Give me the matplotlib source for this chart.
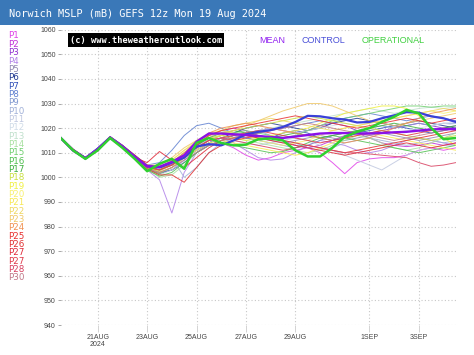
import numpy as np
import matplotlib
matplotlib.use('Agg')
import matplotlib.pyplot as plt
from matplotlib.patches import Rectangle

# forecast hours, 12-hourly from Mon 19 Aug 12z
hours = list(range(0, 385, 12))

member_names = ['P1', 'P2', 'P3', 'P4', 'P5', 'P6', 'P7', 'P8', 'P9', 'P10',
                'P11', 'P12', 'P13', 'P14', 'P15', 'P16', 'P17', 'P18', 'P19', 'P20',
                'P21', 'P22', 'P23', 'P24', 'P25', 'P26', 'P27', 'P27', 'P28', 'P30']
member_colors = ['#e040e8', '#c030d8', '#9030d0', '#b080e8', '#9088b0', '#203890', '#3050b8',
                 '#6080d0', '#8098d0', '#a0b0d8', '#c0c8e0', '#d0dce8', '#c0e0cc', '#a8e0a0',
                 '#70d070', '#50c050', '#40b040', '#c8e040', '#f0f040', '#f8f070', '#f8e850',
                 '#f0d860', '#f0c868', '#f09050', '#e83030', '#e03030', '#e02838', '#e03848',
                 '#d84060', '#c07888']

p1 = [1016, 1011, 1007.5, 1011.5, 1016.5, 1013, 1008.5, 1004.5, 1003, 1005.5, 1009, 1013, 1015, 1014, 1012, 1009, 1007, 1008, 1010, 1011, 1012, 1010, 1006, 1001.5, 1006, 1007.5, 1008, 1008, 1009, 1011, 1012, 1011, 1012]
p2 = [1016, 1011, 1008, 1011.5, 1016, 1012.5, 1008, 1004, 1002, 1004, 1008, 1012, 1016, 1019, 1020, 1019, 1017, 1016, 1015, 1013, 1012, 1013, 1015, 1017, 1018, 1016, 1014, 1013, 1012.5, 1013, 1014, 1013, 1014]
p3 = [1016, 1011.5, 1008, 1011, 1016, 1012, 1008, 1003.5, 1001.5, 1003, 1007, 1011, 1014, 1016, 1017, 1018, 1019, 1020, 1019, 1018, 1019, 1021, 1022, 1021, 1019, 1018, 1019, 1020, 1021, 1022, 1021, 1020, 1021]
p4 = [1016, 1011, 1007.5, 1011, 1016, 1012.5, 1008, 1003, 999, 985.5, 1002, 1010, 1014, 1016, 1014, 1011, 1008, 1007, 1007.5, 1010, 1013, 1015, 1014, 1013, 1011, 1010, 1011, 1013, 1015, 1016, 1015, 1014, 1013]
p5 = [1016, 1010.5, 1007.5, 1011, 1016, 1012.5, 1008.5, 1005, 1004, 1006, 1009, 1013, 1016, 1017, 1018, 1017, 1016, 1015, 1014, 1015, 1016, 1017, 1016, 1015, 1016, 1017, 1018, 1017, 1016, 1015, 1016, 1017, 1018]
p6 = [1016, 1011, 1008, 1012, 1016.5, 1013, 1009, 1005, 1004, 1005, 1008, 1011, 1014, 1016, 1018, 1020, 1021, 1022, 1021, 1020, 1019, 1020, 1022, 1023, 1024, 1023, 1022, 1021, 1022, 1023, 1022, 1021, 1020]
p7 = [1016, 1011, 1008, 1011.5, 1016, 1012.5, 1008, 1004, 1002, 1003, 1006, 1010, 1013, 1015, 1017, 1016, 1015, 1016, 1018, 1019, 1018, 1016, 1015, 1016, 1018, 1019, 1020, 1021, 1020, 1019, 1018, 1019, 1020]
p8 = [1016, 1011, 1007.8, 1011.5, 1016, 1012.5, 1008.5, 1005, 1006, 1011, 1017, 1021, 1022, 1020, 1018, 1017, 1018, 1019, 1020, 1021, 1022, 1023, 1022, 1024, 1025, 1026, 1025, 1024, 1023, 1024, 1025, 1024, 1023]
p9 = [1016, 1011, 1007.5, 1011, 1016, 1012, 1008, 1004, 1003, 1006, 1010, 1014, 1017, 1019, 1018, 1016, 1015, 1014, 1013, 1012, 1013, 1015, 1017, 1018, 1019, 1020, 1021, 1020, 1021, 1022, 1021, 1022, 1022]
p10 = [1016, 1011, 1008, 1011.5, 1016, 1012.5, 1008, 1004.5, 1005, 1008, 1000, 1004, 1010, 1014, 1016, 1018, 1019, 1017, 1015, 1014, 1012, 1011, 1012, 1014, 1015, 1016, 1015, 1014, 1013, 1014, 1015, 1014, 1015]
p11 = [1016, 1011, 1008, 1011.5, 1016.5, 1013, 1008.5, 1005, 1004, 1006, 1009, 1012, 1015, 1016, 1015, 1014, 1013, 1014, 1015, 1016, 1015, 1013, 1011, 1009, 1007, 1005, 1003, 1006, 1009, 1011, 1012, 1013, 1013]
p12 = [1016, 1011, 1007.8, 1011.5, 1016, 1012.5, 1008, 1004, 1003, 1005, 1008, 1012, 1016, 1019, 1021, 1022, 1021, 1020, 1019, 1018, 1019, 1020, 1021, 1022, 1021, 1020, 1019, 1018, 1019, 1020, 1021, 1022, 1021]
p13 = [1016, 1010.5, 1007.5, 1011, 1015.5, 1012, 1007.5, 1003, 1001, 1003, 1007, 1011, 1014, 1016, 1017, 1018, 1019, 1020, 1021, 1022, 1023, 1024, 1025, 1026, 1027, 1028, 1027, 1026, 1027, 1028, 1028.5, 1028, 1028.5]
p14 = [1016, 1011, 1007.5, 1011, 1016, 1012, 1008, 1003.5, 1000, 1001, 1005, 1010, 1013, 1015, 1016, 1015, 1014, 1013, 1012, 1011, 1010, 1011, 1013, 1015, 1017, 1016, 1014, 1012, 1011, 1012, 1014, 1016, 1018]
p15 = [1016, 1011, 1007.8, 1011.5, 1016, 1012.5, 1008, 1003.5, 1001.5, 1004, 1008, 1012, 1015, 1017, 1018, 1019, 1018, 1017, 1016, 1017, 1019, 1021, 1023, 1024, 1025, 1026, 1027, 1028, 1029, 1029, 1028.5, 1029, 1029]
p16 = [1016, 1011, 1007.5, 1011, 1016, 1012.5, 1008, 1003, 1000.5, 1002, 1006, 1010, 1013, 1014, 1013, 1012, 1011, 1010, 1010.5, 1012, 1014, 1016, 1017, 1016, 1015, 1014, 1013, 1012, 1011, 1010, 1011, 1012, 1013]
p17 = [1016, 1011, 1008, 1011.5, 1016, 1012.5, 1008.5, 1004.5, 1003, 1005, 1009, 1013, 1016, 1018, 1019, 1018, 1017, 1016, 1017, 1018, 1017, 1016, 1017, 1018, 1019, 1020, 1021, 1022, 1021, 1020, 1019, 1020, 1021]
p18 = [1016, 1011, 1007.8, 1011.5, 1016, 1012.5, 1008, 1004, 1002.5, 1005, 1009, 1012, 1015, 1017, 1019, 1020, 1021, 1022, 1023, 1024, 1025, 1024, 1023, 1022, 1021, 1020, 1019, 1018, 1017, 1016, 1015, 1016, 1017]
p19 = [1016, 1011, 1007.5, 1011, 1016, 1012.5, 1008, 1004, 1003, 1006, 1010, 1014, 1016, 1017, 1016, 1015, 1016, 1017, 1018, 1019, 1020, 1022, 1024, 1026, 1027, 1028, 1029, 1029, 1028, 1025, 1020, 1016, 1013]
p20 = [1016, 1011, 1008, 1011.5, 1016.5, 1013, 1008.5, 1005, 1004, 1007, 1011, 1015, 1018, 1019, 1018, 1017, 1015, 1014, 1013, 1014, 1015, 1017, 1019, 1020, 1021, 1022, 1023, 1024, 1025, 1026, 1027, 1026, 1027]
p21 = [1016, 1011, 1007.8, 1011.5, 1016, 1012.5, 1008, 1004, 1002, 1004, 1008, 1011, 1014, 1015, 1014, 1013, 1012, 1011, 1010, 1009, 1010, 1012, 1014, 1016, 1017, 1018, 1017, 1016, 1015, 1014, 1013, 1012, 1011]
p22 = [1016, 1011, 1007.5, 1011, 1016, 1012, 1008, 1004.5, 1004, 1007, 1011, 1014, 1017, 1019, 1021, 1022, 1023, 1024, 1023, 1022, 1021, 1020, 1019, 1020, 1021, 1022, 1023, 1024, 1025, 1026, 1027, 1028, 1027]
p23 = [1016, 1011, 1008, 1011.5, 1016, 1012.5, 1008.5, 1005, 1005, 1008, 1012, 1015, 1017, 1018, 1019, 1021, 1023, 1025, 1027, 1028.5, 1030, 1030, 1029, 1027, 1025, 1023, 1022, 1021, 1022, 1023, 1024, 1025, 1026]
p24 = [1016, 1011, 1007.8, 1011.5, 1016, 1012.5, 1008, 1004, 1003, 1006, 1010, 1014, 1018, 1020, 1021, 1022, 1021, 1020, 1019, 1018, 1017, 1016, 1015, 1014, 1015, 1016, 1018, 1020, 1022, 1024, 1026, 1027, 1028]
p25 = [1016, 1011, 1008, 1011.5, 1016.5, 1013, 1009, 1005, 1004, 1006, 1009, 1013, 1017, 1019, 1020, 1021, 1022, 1023, 1024, 1025, 1024, 1023, 1022, 1021, 1020, 1021, 1022, 1023, 1024, 1023, 1022, 1023, 1024]
p26 = [1016, 1011.5, 1008, 1011, 1016, 1012, 1008, 1003.5, 1001, 1001, 998, 1004, 1010, 1013, 1015, 1016, 1017, 1016, 1015, 1014, 1013, 1012, 1011, 1010, 1011, 1012, 1013, 1014, 1015, 1016, 1017, 1018, 1019]
p27a = [1016, 1011, 1007.5, 1011, 1016, 1012.5, 1008, 1006, 1010.5, 1007, 1004, 1008, 1012, 1015, 1016, 1017, 1016, 1015, 1014, 1013, 1012, 1011, 1010, 1009, 1010, 1011, 1012, 1013, 1014, 1013, 1012, 1013, 1014]
p27b = [1016, 1011, 1008, 1011.5, 1016, 1012.5, 1008.5, 1004, 1003, 1005, 1008, 1012, 1015, 1016, 1017, 1018, 1019, 1018, 1017, 1016, 1015, 1014, 1015, 1016, 1017, 1018, 1019, 1018, 1017, 1018, 1019, 1020, 1019]
p28 = [1016, 1011, 1007.8, 1011.5, 1016, 1012.5, 1008, 1004.5, 1003, 1005, 1009, 1012, 1015, 1016, 1015, 1014, 1013, 1012, 1011, 1012, 1013, 1012, 1011, 1010, 1010, 1009.5, 1009, 1008.5, 1008, 1006, 1004.5, 1005, 1006]
p30 = [1016, 1011, 1007.5, 1011, 1016, 1012, 1008, 1003.5, 1002, 1004, 1007, 1010, 1013, 1015, 1016, 1017, 1018, 1019, 1020, 1021, 1022, 1021, 1020, 1019, 1018, 1017, 1016, 1015, 1016, 1017, 1018, 1019, 1020]

members = [p1, p2, p3, p4, p5, p6, p7, p8, p9, p10, p11, p12, p13, p14, p15,
           p16, p17, p18, p19, p20, p21, p22, p23, p24, p25, p26, p27a, p27b, p28, p30]

mean = [1016, 1011, 1007.8, 1011.5, 1016.2, 1012.6, 1008.3, 1004.5, 1004.3, 1006.3, 1009, 1014.5, 1017.8, 1017.8, 1017.5, 1017.2, 1016.8, 1016.4, 1016, 1016.6, 1017.2, 1017.8, 1018, 1018, 1017.8, 1017.8, 1018, 1018.3, 1018.5, 1019, 1019.5, 1019.6, 1019.6]
control = [1016, 1011, 1007.8, 1011.5, 1016.2, 1012.6, 1008.3, 1004.5, 1004, 1006, 1008, 1012.5, 1013.5, 1013, 1015, 1017.5, 1018.5, 1019.2, 1020.5, 1022.5, 1025, 1024.8, 1024, 1023.5, 1022.3, 1022.5, 1024, 1025.2, 1026.5, 1026.3, 1024.8, 1024, 1022.5]
operational = [1016, 1011, 1007.5, 1011, 1016, 1012, 1007.5, 1002.5, 1005.5, 1007.5, 1003.5, 1014, 1016, 1014, 1013, 1013.3, 1015.5, 1015.8, 1015, 1011, 1008.5, 1008.5, 1012, 1016.5, 1018.5, 1020, 1022.5, 1024.6, 1027.4, 1026, 1020, 1015.5, 1016]

tick_hours = [36, 84, 132, 180, 228, 300, 348]
tick_labels = ['21AUG\n2024', '23AUG', '25AUG', '27AUG', '29AUG', '1SEP', '3SEP']
y_ticks = list(range(940, 1061, 10))

W, H = 474, 355
fig = plt.figure(figsize=(W / 100, H / 100), dpi=100)

# title bar
fig.patches.append(Rectangle((0, 1 - 25 / H), 1, 25 / H, transform=fig.transFigure,
                             facecolor='#3a78b8', edgecolor='none', zorder=0))
fig.text(9 / W, 1 - 14 / H, 'Norwich MSLP (mB) GEFS 12z Mon 19 Aug 2024', color='white',
         family='DejaVu Sans Mono', fontsize=7.4, va='center', ha='left')

ax = fig.add_axes([60.7 / W, (H - 325) / H, (455.9 - 60.7) / W, (325 - 29.7) / H])
ax.set_xlim(0, 384)
ax.set_ylim(940, 1060)
for s in ax.spines.values():
    s.set_visible(False)

ax.set_yticks(y_ticks)
ax.set_yticklabels([str(v) for v in y_ticks], family='Liberation Sans', fontsize=5, color='#444444')
ax.set_xticks(tick_hours)
ax.set_xticklabels(tick_labels, family='Liberation Sans', fontsize=5, color='#444444', linespacing=0.95)
ax.tick_params(axis='y', length=2.5, width=0.6, color='#999999', pad=1)
ax.tick_params(axis='x', length=5, width=0.6, color='#cccccc', pad=1.5)
ax.grid(True, color='#c8c8c8', linestyle=(0, (1, 2)), linewidth=0.8)
ax.set_axisbelow(True)

for vals, c in zip(members, member_colors):
    ax.plot(hours, vals, color=c, linewidth=0.7, alpha=0.85)

ax.plot(hours, control, color='#3a40d8', linewidth=1.6)
ax.plot(hours, mean, color='#8a10e8', linewidth=1.7)
ax.plot(hours, operational, color='#30d030', linewidth=1.8)

# member legend on the left
for k, (name, c) in enumerate(zip(member_names, member_colors)):
    fig.text(8.5 / W, 1 - (36 + 8.34 * k) / H, name, color=c, family='DejaVu Sans',
             fontsize=6.3, va='center', ha='left')

fig.text(146 / W, 1 - 40 / H, '(c) www.theweatheroutlook.com', color='white',
         family='DejaVu Sans Mono', fontweight='bold', fontsize=6.2, ha='center', va='center',
         bbox=dict(facecolor='black', edgecolor='none', pad=1.6))
fig.text(259 / W, 1 - 40.7 / H, 'MEAN', color='#9020f0', family='Liberation Sans',
         fontsize=6.5, ha='left', va='center')
fig.text(302 / W, 1 - 40.7 / H, 'CONTROL', color='#4a50d8', family='Liberation Sans',
         fontsize=6.5, ha='left', va='center')
fig.text(362 / W, 1 - 40.7 / H, 'OPERATIONAL', color='#40d040', family='Liberation Sans',
         fontsize=6.5, ha='left', va='center')

fig.savefig('out.png', dpi=100)
